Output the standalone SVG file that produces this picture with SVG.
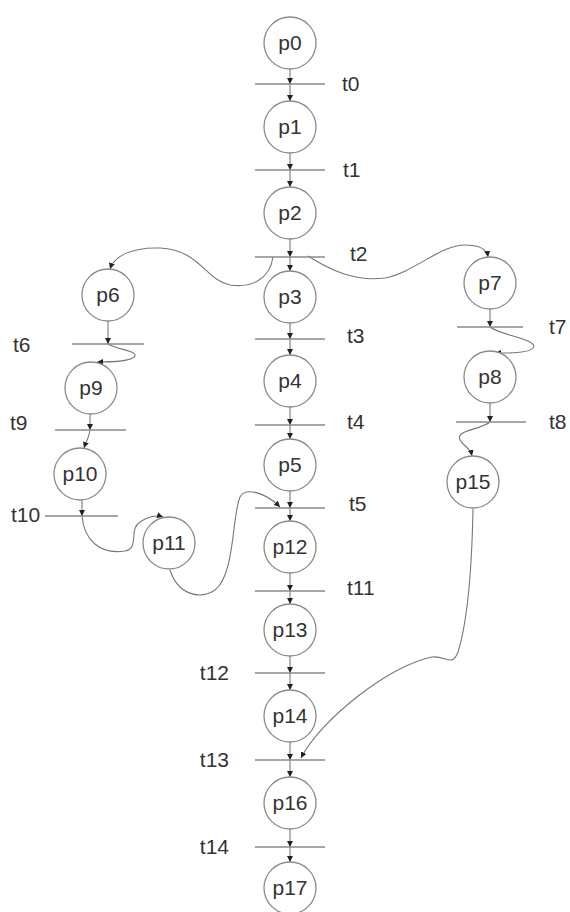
<svg xmlns="http://www.w3.org/2000/svg" width="570" height="912" viewBox="0 0 570 912">
<style>
.pl circle{fill:#fff;stroke:#8a8a8a;stroke-width:1.3}
.pl text,.tr text{font-family:"Liberation Sans",Arial,sans-serif;font-size:21px;fill:#333}
.pl text{text-anchor:middle}
.tr line{stroke:#8a8a8a;stroke-width:1.3}
.arc{fill:none;stroke:#777;stroke-width:1.1;marker-end:url(#ah)}
</style>
<defs>
<marker id="ah" markerUnits="userSpaceOnUse" viewBox="0 0 10 10" refX="10" refY="5" markerWidth="6" markerHeight="6" orient="auto">
<path d="M0,0 L10,5 L0,10 z" fill="#222"/>
</marker>
</defs>
<rect width="570" height="912" fill="#fff"/>
<g id="connectors">
<path class="arc" d="M290 69 L290 84"/>
<path class="arc" d="M290 84 L290 101"/>
<path class="arc" d="M290 153 L290 170"/>
<path class="arc" d="M290 170 L290 187"/>
<path class="arc" d="M290 239 L290 257"/>
<path class="arc" d="M290 257 L290 271"/>
<path class="arc" d="M290 323 L290 339"/>
<path class="arc" d="M290 339 L290 355"/>
<path class="arc" d="M290 407 L290 425"/>
<path class="arc" d="M290 425 L290 439"/>
<path class="arc" d="M290 491 L290 508"/>
<path class="arc" d="M290 508 L290 521"/>
<path class="arc" d="M290 573 L290 591"/>
<path class="arc" d="M290 591 L290 604"/>
<path class="arc" d="M290 656 L290 673"/>
<path class="arc" d="M290 673 L290 690"/>
<path class="arc" d="M290 742 L290 760"/>
<path class="arc" d="M290 760 L290 777"/>
<path class="arc" d="M290 829 L290 847"/>
<path class="arc" d="M290 847 L290 862"/>
<path class="arc" d="M273 257 C270 280 250 288 230 285 C205 280 200 250 160 248 C130 247 114 257 110 269"/>
<path class="arc" d="M308 256 C330 270 355 282 385 278 C415 272 440 245 465 245 C480 245 487 250 488 257"/>
<path class="arc" d="M108 321 L108 344"/>
<path class="arc" d="M108 344 C118 350 140 351 134 357 C128 362 110 362 97 362"/>
<path class="arc" d="M90 414 L90 430"/>
<path class="arc" d="M90 430 C89 438 86 442 84 448"/>
<path class="arc" d="M82 500 L82 516"/>
<path class="arc" d="M82 516 C84 540 100 555 125 551 C140 548 128 530 140 522 C148 516 157 515 163 517"/>
<path class="arc" d="M170 570 C178 595 200 600 215 590 C235 575 232 515 240 497 C245 487 265 492 280 507"/>
<path class="arc" d="M490 309 L490 327"/>
<path class="arc" d="M490 327 C500 335 540 340 533 348 C528 354 505 353 495 353"/>
<path class="arc" d="M490 403 L490 422"/>
<path class="arc" d="M490 422 C480 430 455 430 460 440 C463 446 470 447 472 456"/>
<path class="arc" d="M473 509 C472 560 468 620 458 652 C452 668 445 655 432 657 C390 665 320 720 301 758"/>
</g>
<g id="p0" class="pl"><circle cx="290" cy="43" r="26"/><text x="290" y="50">p0</text></g>
<g id="p1" class="pl"><circle cx="290" cy="127" r="26"/><text x="290" y="134">p1</text></g>
<g id="p2" class="pl"><circle cx="290" cy="213" r="26"/><text x="290" y="220">p2</text></g>
<g id="p3" class="pl"><circle cx="290" cy="297" r="26"/><text x="290" y="304">p3</text></g>
<g id="p4" class="pl"><circle cx="290" cy="381" r="26"/><text x="290" y="388">p4</text></g>
<g id="p5" class="pl"><circle cx="290" cy="465" r="26"/><text x="290" y="472">p5</text></g>
<g id="p12" class="pl"><circle cx="290" cy="547" r="26"/><text x="290" y="554">p12</text></g>
<g id="p13" class="pl"><circle cx="290" cy="630" r="26"/><text x="290" y="637">p13</text></g>
<g id="p14" class="pl"><circle cx="290" cy="716" r="26"/><text x="290" y="723">p14</text></g>
<g id="p16" class="pl"><circle cx="290" cy="803" r="26"/><text x="290" y="810">p16</text></g>
<g id="p17" class="pl"><circle cx="290" cy="888" r="26"/><text x="290" y="895">p17</text></g>
<g id="p6" class="pl"><circle cx="108" cy="295" r="26"/><text x="108" y="302">p6</text></g>
<g id="p9" class="pl"><circle cx="91" cy="388" r="26"/><text x="91" y="395">p9</text></g>
<g id="p10" class="pl"><circle cx="80" cy="474" r="26"/><text x="80" y="481">p10</text></g>
<g id="p11" class="pl"><circle cx="169" cy="543" r="26"/><text x="169" y="550">p11</text></g>
<g id="p7" class="pl"><circle cx="490" cy="283" r="26"/><text x="490" y="290">p7</text></g>
<g id="p8" class="pl"><circle cx="490" cy="377" r="26"/><text x="490" y="384">p8</text></g>
<g id="p15" class="pl"><circle cx="473" cy="482" r="26"/><text x="473" y="489">p15</text></g>
<g id="t0" class="tr"><line x1="255" y1="84" x2="325" y2="84"/><text x="342" y="91">t0</text></g>
<g id="t1" class="tr"><line x1="255" y1="170" x2="325" y2="170"/><text x="343" y="177">t1</text></g>
<g id="t2" class="tr"><line x1="255" y1="257" x2="325" y2="257"/><text x="350" y="261">t2</text></g>
<g id="t3" class="tr"><line x1="255" y1="339" x2="325" y2="339"/><text x="347" y="343">t3</text></g>
<g id="t4" class="tr"><line x1="255" y1="425" x2="325" y2="425"/><text x="347" y="429">t4</text></g>
<g id="t5" class="tr"><line x1="255" y1="508" x2="325" y2="508"/><text x="349" y="511">t5</text></g>
<g id="t11" class="tr"><line x1="255" y1="591" x2="325" y2="591"/><text x="347" y="595">t11</text></g>
<g id="t12" class="tr"><line x1="255" y1="673" x2="325" y2="673"/><text x="229" y="680" text-anchor="end">t12</text></g>
<g id="t13" class="tr"><line x1="255" y1="760" x2="325" y2="760"/><text x="229" y="767" text-anchor="end">t13</text></g>
<g id="t14" class="tr"><line x1="255" y1="847" x2="325" y2="847"/><text x="229" y="854" text-anchor="end">t14</text></g>
<g id="t6" class="tr"><line x1="72" y1="344" x2="144" y2="344"/><text x="13" y="352">t6</text></g>
<g id="t9" class="tr"><line x1="55" y1="430" x2="126" y2="430"/><text x="10" y="430">t9</text></g>
<g id="t10" class="tr"><line x1="45" y1="516" x2="118" y2="516"/><text x="11" y="522">t10</text></g>
<g id="t7" class="tr"><line x1="457" y1="327" x2="523" y2="327"/><text x="549" y="334">t7</text></g>
<g id="t8" class="tr"><line x1="456" y1="422" x2="526" y2="422"/><text x="549" y="429">t8</text></g>
</svg>
